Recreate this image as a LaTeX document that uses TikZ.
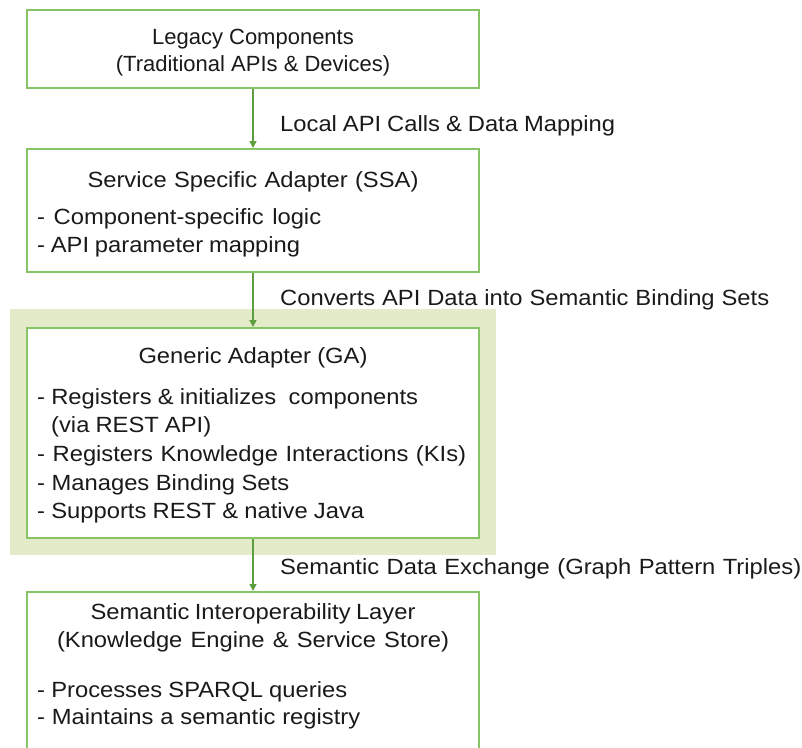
\documentclass[tikz,border=0pt]{standalone}
\usepackage{graphicx}
\usepackage{fontspec}
\setmainfont{Liberation Sans}
\usetikzlibrary{arrows.meta}
\definecolor{boxgreen}{HTML}{86C466}
\definecolor{arrowgreen}{HTML}{5E9E3F}
\definecolor{hlfill}{HTML}{E3EBC8}
\definecolor{ink}{HTML}{1A1A1A}
% set a line slightly widened, fitted to a given width (pt)
\newcommand{\spreadline}[2]{\scalebox{1.08}[1]{\makebox[\dimexpr #1pt*100/108\relax][s]{#2}}}
\tikzset{
  box/.style={draw=boxgreen, line width=2pt, fill=white, rectangle,
    minimum width=452pt, inner sep=0pt},
  txt/.style={font=\fontsize{22}{26}\selectfont, text=ink, inner sep=0pt,
    text height=15.8pt, text depth=0pt},
  flow/.style={draw=arrowgreen, line width=1.6pt,
    -{Triangle[length=7pt,width=7pt]}},
}
\begin{document}
\begin{tikzpicture}[x=1pt,y=-1pt]
\useasboundingbox (0,0) rectangle (802,747);
\clip (0,0) rectangle (802,747);

% highlight behind the generic adapter
\node[fill=hlfill, inner sep=0pt, minimum width=486pt, minimum height=246pt] (hl) at (253,432) {};

% boxes
\node[box, minimum height=78pt]  (legacy) at (253,49) {};
\node[box, minimum height=123pt] (ssa)    at (253,210.5) {};
\node[box, minimum height=210pt] (ga)     at (253,433) {};
\node[box, minimum height=180pt] (sil)    at (253,682) {};

% connectors
\draw[flow] (legacy.south) -- (ssa.north);
\draw[flow] (ssa.south) -- (ga.north);
\draw[flow] (ga.south) -- (sil.north);

% connector labels
\node[txt, anchor=west] (l1) at (280,124) {\spreadline{335}{Local API Calls \& Data Mapping}};
\node[txt, anchor=west] (l2) at (280,298) {\spreadline{489}{Converts API Data into Semantic Binding Sets}};
\node[txt, anchor=west] (l3) at (280,567) {\spreadline{521}{Semantic Data Exchange (Graph Pattern Triples)}};

% legacy components
\node[txt] (t1a) at (253,37) {Legacy Components};
\node[txt] (t1b) at (253,64) {(Traditional APIs \& Devices)};

% service specific adapter
\node[txt] (t2) at (253,180) {\spreadline{331}{Service Specific Adapter (SSA)}};
\node[txt, anchor=west] (t2a) at (37,217) {\spreadline{284}{- Component-specific logic}};
\node[txt, anchor=west] (t2b) at (37,245) {\spreadline{263}{- API parameter mapping}};

% generic adapter
\node[txt] (t3) at (253,356) {\spreadline{229}{Generic Adapter (GA)}};
\node[txt, anchor=west] (t3a) at (37,397) {\spreadline{381}{- Registers \& initializes\ \ components}};
\node[txt, anchor=west] (t3b) at (51,425) {\spreadline{160}{(via REST API)}};
\node[txt, anchor=west] (t3c) at (37,454) {\spreadline{429}{- Registers Knowledge Interactions (KIs)}};
\node[txt, anchor=west] (t3d) at (37,483) {\spreadline{252}{- Manages Binding Sets}};
\node[txt, anchor=west] (t3e) at (37,511) {\spreadline{327}{- Supports REST \& native Java}};

% semantic interoperability layer
\node[txt] (t4a) at (253,612) {\spreadline{325}{Semantic Interoperability Layer}};
\node[txt] (t4b) at (253,640) {\spreadline{392}{(Knowledge Engine \& Service Store)}};
\node[txt, anchor=west] (t4c) at (37,690) {\spreadline{310}{- Processes SPARQL queries}};
\node[txt, anchor=west] (t4d) at (37,717) {\spreadline{323}{- Maintains a semantic registry}};
\end{tikzpicture}
\end{document}
